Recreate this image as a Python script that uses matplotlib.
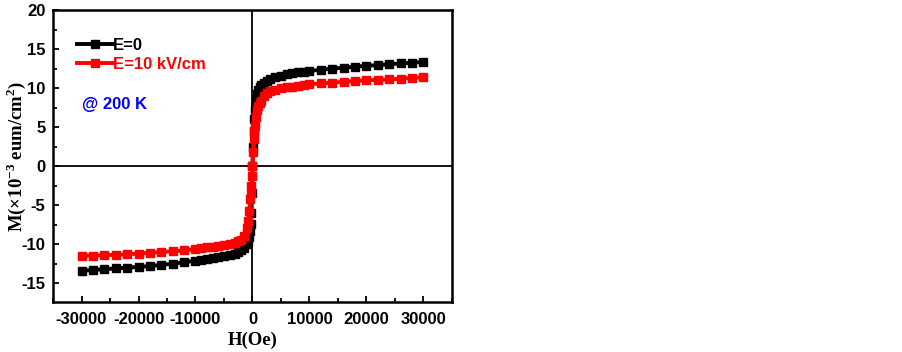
import matplotlib
matplotlib.use("Agg")
import matplotlib.pyplot as plt
from matplotlib.ticker import MultipleLocator

plt.rcParams["axes.unicode_minus"] = False

H = [-30000, -28000, -26000, -24000, -22000, -20000, -18000, -16000, -14000, -12000,
     -10000, -9000, -8000, -7000, -6000, -5000, -4000, -3000, -2500, -2000, -1500,
     -1000, -800, -600, -400, -300, -200, -100, 0, 100, 200, 300, 400, 600, 800,
     1000, 1300, 1500, 2000, 2500, 3000, 4000, 5000, 6000, 7000, 8000, 9000, 10000,
     12000, 14000, 16000, 18000, 20000, 22000, 24000, 26000, 28000, 30000]

M_E0 = [-13.4, -13.3, -13.2, -13.1, -13.0, -12.9, -12.8, -12.65, -12.5, -12.3,
        -12.1, -12.0, -11.9, -11.8, -11.65, -11.5, -11.4, -11.2, -11.0, -10.8, -10.5,
        -10.0, -9.6, -9.1, -8.3, -7.4, -6.0, -3.5, 0.0, 2.5, 4.5, 6.0, 7.2, 8.4, 9.2,
        9.7, 10.2, 10.4, 10.7, 10.9, 11.1, 11.4, 11.6, 11.8, 11.9, 12.0, 12.1, 12.2,
        12.35, 12.5, 12.6, 12.75, 12.85, 12.95, 13.05, 13.15, 13.25, 13.35]

M_E10 = [-11.5, -11.45, -11.4, -11.35, -11.3, -11.2, -11.1, -11.0, -10.9, -10.8,
         -10.6, -10.5, -10.4, -10.3, -10.2, -10.1, -9.95, -9.8, -9.65, -9.5, -9.0,
         -7.9, -7.0, -5.8, -4.2, -3.4, -2.5, -1.3, 0.0, 1.8, 3.5, 4.5, 5.2, 6.3, 7.2,
         7.7, 8.1, 8.4, 9.0, 9.4, 9.6, 9.8, 10.0, 10.1, 10.2, 10.3, 10.4, 10.5,
         10.6, 10.7, 10.8, 10.9, 11.0, 11.05, 11.1, 11.2, 11.3, 11.4]

xticks = [-30000, -20000, -10000, 0, 10000, 20000, 30000]
yticks = [-15, -10, -5, 0, 5, 10, 15, 20]

fig = plt.figure(figsize=(9.03, 3.52), dpi=100)
ax = fig.add_axes([53/903, 50/352, 399/903, 292/352])

ax.axhline(0, color="black", lw=1.3, zorder=1)
ax.axvline(0, color="black", lw=1.3, zorder=1)

ax.plot(H, M_E0, color="black", lw=2.8, marker="s", ms=6, label="E=0", zorder=3)
ax.plot(H, M_E10, color="red", lw=2.8, marker="s", ms=6, label="E=10 kV/cm", zorder=4)

ax.set_xlim(-35000, 35000)
ax.set_ylim(-17.4, 20)
ax.set_xticks(xticks)
ax.set_yticks(yticks)
ax.xaxis.set_minor_locator(MultipleLocator(5000))
ax.yaxis.set_minor_locator(MultipleLocator(2.5))
ax.tick_params(which="both", direction="in", top=False, right=False, width=1.3)
ax.tick_params(which="major", length=4.5, labelsize=12)
ax.tick_params(which="minor", length=3)
ax.tick_params(axis="x", which="major", pad=7)
ax.tick_params(axis="y", which="major", pad=5.5)
for lab in ax.get_xticklabels() + ax.get_yticklabels():
    lab.set_fontfamily("Liberation Sans")
    lab.set_fontweight("bold")
for s in ax.spines.values():
    s.set_linewidth(1.8)

ax.set_xlabel("H(Oe)", family="Liberation Serif", fontweight="bold", fontsize=13.5)
ax.xaxis.set_label_coords(0.5, -0.1)
ax.set_ylabel(r"M(×10$^{\mathregular{-3}}$ eum/cm$^{\mathregular{2}}$)", family="Liberation Serif",
              fontweight="bold", fontsize=13.5)
ax.yaxis.set_label_coords(-0.062, 0.5)

leg = ax.legend(loc="upper left", bbox_to_anchor=(0.06, 0.905), frameon=False,
                borderaxespad=0, borderpad=0,
                numpoints=1, handlelength=2.15, handletextpad=0.0, labelspacing=0.25,
                prop={"family": "Liberation Sans", "weight": "bold", "size": 12},
                labelcolor="linecolor")

ax.text(0.073, 0.675, "@ 200 K", transform=ax.transAxes, color="blue",
        family="Liberation Sans", fontweight="bold", fontsize=12, va="center")

fig.savefig("out.png", dpi=100)
